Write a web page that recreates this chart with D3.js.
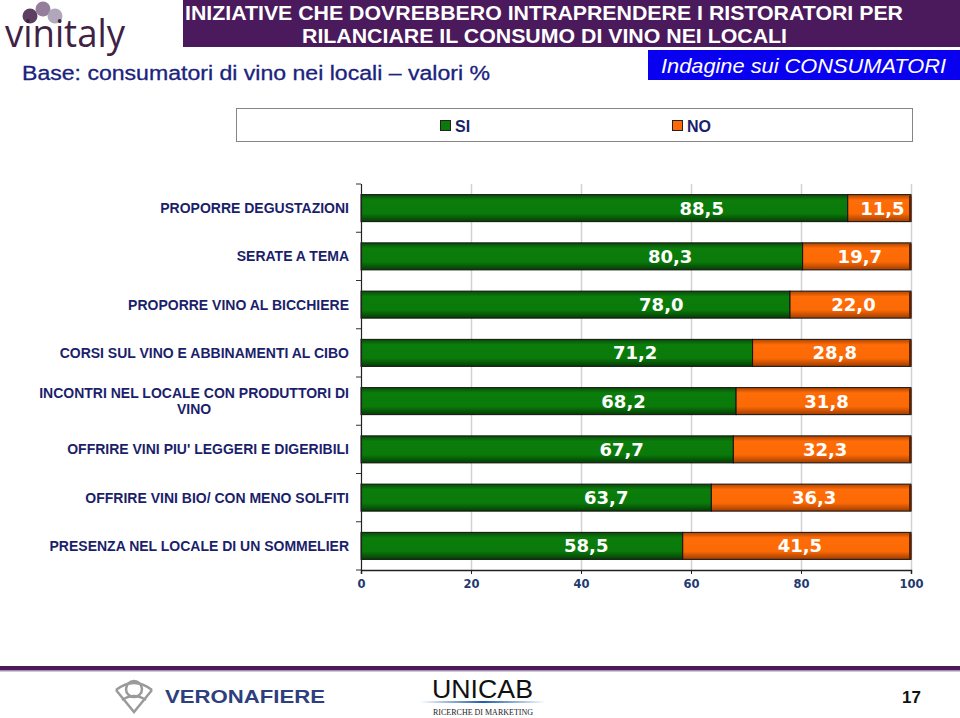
<!DOCTYPE html>
<html><head><meta charset="utf-8">
<script src="https://cdn.jsdelivr.net/npm/d3@7"></script>
<style>
html,body{margin:0;padding:0;background:#fff;}
svg{display:block;}
</style></head>
<body>
<script>
// ---- DATA ----
const categories = [
  ["PROPORRE DEGUSTAZIONI"],
  ["SERATE A TEMA"],
  ["PROPORRE VINO AL BICCHIERE"],
  ["CORSI SUL VINO E ABBINAMENTI AL CIBO"],
  ["INCONTRI NEL LOCALE CON PRODUTTORI DI", "VINO"],
  ["OFFRIRE VINI PIU' LEGGERI E DIGERIBILI"],
  ["OFFRIRE VINI BIO/ CON MENO SOLFITI"],
  ["PRESENZA NEL LOCALE DI UN SOMMELIER"]
];
const siValues = [88.5, 80.3, 78.0, 71.2, 68.2, 67.7, 63.7, 58.5];
const noValues = [11.5, 19.7, 22.0, 28.8, 31.8, 32.3, 36.3, 41.5];
const seriesNames = ["SI", "NO"];
const xTicks = [0, 20, 40, 60, 80, 100];
const titleLines = ["INIZIATIVE CHE DOVREBBERO INTRAPRENDERE I RISTORATORI PER", "RILANCIARE IL CONSUMO DI VINO NEI LOCALI"];
const baseText = "Base: consumatori di vino nei locali \u2013 valori %";
const surveyText = "Indagine sui CONSUMATORI";
const pageNumber = "17";

// ---- LAYOUT ----
const W = 960, H = 718;
const plot = {left: 361, right: 911, top: 184, bottom: 570};
const navy = "#1b1f6b";
const purple = "#4a1a5c";

const svg = d3.select("body").append("svg").attr("width", W).attr("height", H);
const defs = svg.append("defs");

function vgrad(id, stops) {
  const g = defs.append("linearGradient").attr("id", id).attr("x1", 0).attr("y1", 0).attr("x2", 0).attr("y2", 1);
  stops.forEach(s => g.append("stop").attr("offset", s[0]).attr("stop-color", s[1]));
}
vgrad("gGreen", [[0, "#0a4a0a"], [0.2, "#0b7d0b"], [0.7, "#0a7a0a"], [1, "#053c05"]]);
vgrad("gOrange", [[0, "#b04400"], [0.2, "#ff6c08"], [0.7, "#fb6a06"], [1, "#a03c00"]]);
const hg = defs.append("linearGradient").attr("id", "gBlueLine").attr("x1", 0).attr("x2", 1);
hg.append("stop").attr("offset", 0).attr("stop-color", "#ffffff");
hg.append("stop").attr("offset", 0.5).attr("stop-color", "#1f5fa8");
hg.append("stop").attr("offset", 1).attr("stop-color", "#ffffff");

// ---- HEADER ----
svg.append("rect").attr("x", 183).attr("y", 0).attr("width", W - 183).attr("height", 47).attr("fill", purple);
const tl = [{t: titleLines[0], x1: 185, x2: 903, y: 20}, {t: titleLines[1], x1: 302, x2: 787, y: 43}];
tl.forEach(d => {
  svg.append("text").attr("x", d.x1).attr("y", d.y)
    .attr("font-family", "'Liberation Sans Narrow','Liberation Sans',Arial,sans-serif")
    .attr("font-size", 20).attr("font-weight", "bold").attr("fill", "#fff")
    .attr("textLength", d.x2 - d.x1).attr("lengthAdjust", "spacingAndGlyphs")
    .text(d.t);
});
// vinitaly logo
[[30, 16, "#4b2a50"], [43, 9, "#8a7090"], [55, 16, "#a99db2"]].forEach(c => {
  svg.append("circle").attr("cx", c[0]).attr("cy", c[1]).attr("r", 7.5).attr("fill", c[2]).attr("opacity", 0.9);
});
svg.append("text").attr("x", 5).attr("y", 47).attr("font-family", "'Open Sans','DejaVu Sans',sans-serif")
  .attr("font-size", 38).attr("fill", "#3f2145").attr("textLength", 120).attr("lengthAdjust", "spacingAndGlyphs")
  .text("vinitaly");

svg.append("text").attr("x", 22).attr("y", 80)
  .attr("font-family", "'Liberation Sans Narrow','Liberation Sans',Arial,sans-serif")
  .attr("font-size", 20).attr("fill", "#1a237e").attr("stroke", "#1a237e").attr("stroke-width", 0.3)
  .attr("textLength", 468).attr("lengthAdjust", "spacingAndGlyphs").text(baseText);

svg.append("rect").attr("x", 648).attr("y", 50).attr("width", W - 648).attr("height", 30).attr("fill", "#0a00f0");
svg.append("text").attr("x", 661).attr("y", 73)
  .attr("font-family", "'Liberation Sans Narrow','Liberation Sans',Arial,sans-serif")
  .attr("font-size", 21).attr("font-style", "italic").attr("fill", "#fff")
  .attr("textLength", 285).attr("lengthAdjust", "spacingAndGlyphs").text(surveyText);

// ---- LEGEND ----
svg.append("rect").attr("x", 236.5).attr("y", 108.5).attr("width", 676).attr("height", 33)
  .attr("fill", "#fff").attr("stroke", "#858585").attr("stroke-width", 1);
const legendX = [440, 672];
const legendFill = ["#0b7a0b", "#ff6a06"];
seriesNames.forEach((n, i) => {
  svg.append("rect").attr("x", legendX[i] + 0.5).attr("y", 120.5).attr("width", 10).attr("height", 10)
    .attr("fill", legendFill[i]).attr("stroke", "#222").attr("stroke-width", 1);
  svg.append("text").attr("x", legendX[i] + 15).attr("y", 132)
    .attr("font-family", "'Liberation Sans',Arial,sans-serif").attr("font-weight", "bold")
    .attr("font-size", 16).attr("fill", navy).text(n);
});

// ---- SCALES ----
const x = d3.scaleLinear().domain([0, 100]).range([plot.left, plot.right]);
const y = d3.scaleBand().domain(d3.range(categories.length)).range([plot.top, plot.bottom])
  .paddingInner(0.44).paddingOuter(0.22);

// gridlines
const g = svg.append("g");
g.selectAll("line.grid").data(xTicks.slice(1)).join("line").attr("class", "grid")
  .attr("x1", d => x(d) + 0.5).attr("x2", d => x(d) + 0.5)
  .attr("y1", plot.top).attr("y2", plot.bottom)
  .attr("stroke", "#d2d2d2").attr("stroke-width", 1.5);

// bars
const rows = categories.map((c, i) => ({i, si: siValues[i], no: noValues[i]}));
const bh = y.bandwidth();
const bars = svg.append("g");
rows.forEach(r => {
  bars.append("rect").attr("x", x(0)).attr("y", y(r.i)).attr("width", x(r.si) - x(0)).attr("height", bh)
    .attr("fill", "url(#gGreen)").attr("stroke", "#111").attr("stroke-width", 1);
  bars.append("rect").attr("x", x(r.si)).attr("y", y(r.i)).attr("width", x(r.si + r.no) - x(r.si)).attr("height", bh)
    .attr("fill", "url(#gOrange)").attr("stroke", "#111").attr("stroke-width", 1);
});
// shadow at right end
rows.forEach(r => {
  bars.append("rect").attr("x", x(r.si + r.no) - 2).attr("y", y(r.i) + 1).attr("width", 2.5).attr("height", bh - 1)
    .attr("fill", "#5a2200");
});

// value labels
const fmt = v => d3.format(".1f")(v).replace(".", ",");
const lab = svg.append("g").attr("font-family", "'DejaVu Sans',Verdana,sans-serif").attr("font-weight", "bold")
  .attr("font-size", 18).attr("fill", "#fff").attr("text-anchor", "middle");
rows.forEach(r => {
  const xs = x(0) + 0.7 * (x(r.si) - x(0));
  lab.append("text").attr("x", xs).attr("y", y(r.i) + bh / 2).attr("dy", "0.36em").text(fmt(r.si));
  const xn = (x(r.si) + x(r.si + r.no)) / 2 + 3;
  lab.append("text").attr("x", xn).attr("y", y(r.i) + bh / 2).attr("dy", "0.36em").text(fmt(r.no));
});

// axes
svg.append("line").attr("x1", plot.left + 0.5).attr("x2", plot.left + 0.5).attr("y1", plot.top).attr("y2", plot.bottom)
  .attr("stroke", "#222").attr("stroke-width", 1.2);
const bounds = d3.range(categories.length + 1).map(k => plot.top + k * y.step());
svg.selectAll("line.ytick").data(bounds).join("line").attr("class", "ytick")
  .attr("x1", plot.left - 5).attr("x2", plot.left).attr("y1", d => d).attr("y2", d => d)
  .attr("stroke", "#333").attr("stroke-width", 1);

const xAxis = svg.append("g").attr("transform", `translate(0,${plot.bottom})`)
  .call(d3.axisBottom(x).tickValues(xTicks).tickSize(4).tickPadding(6));
xAxis.select(".domain").attr("stroke", "#222").attr("stroke-width", 1.5);
xAxis.selectAll(".tick line").attr("stroke", "#222");
xAxis.selectAll(".tick text").attr("font-family", "'DejaVu Sans',Verdana,sans-serif").attr("font-weight", "bold")
  .attr("font-size", 11.5).attr("fill", "#1f3a70");

// category labels
const cl = svg.append("g").attr("font-family", "'Liberation Sans',Arial,sans-serif").attr("font-weight", "bold")
  .attr("font-size", 14).attr("fill", navy);
const labelRight = 349;
categories.forEach((lines, i) => {
  const cy = y(i) + bh / 2;
  const n = lines.length;
  if (n === 1) {
    cl.append("text").attr("x", labelRight).attr("y", cy).attr("dy", "0.36em").attr("text-anchor", "end").text(lines[0]);
  } else {
    const t0 = cl.append("text").attr("x", labelRight).attr("y", cy - 8).attr("dy", "0.36em").attr("text-anchor", "end").text(lines[0]);
    const w = t0.node().getComputedTextLength();
    const center = labelRight - w / 2;
    for (let k = 1; k < n; k++) {
      cl.append("text").attr("x", center).attr("y", cy - 8 + 16 * k).attr("dy", "0.36em").attr("text-anchor", "middle").text(lines[k]);
    }
  }
});

// ---- FOOTER ----
svg.append("rect").attr("x", 0).attr("y", 666).attr("width", W).attr("height", 4).attr("fill", purple);
svg.append("rect").attr("x", 0).attr("y", 670).attr("width", W).attr("height", 1.5).attr("fill", "#a58fb0");
// veronafiere emblem
const em = svg.append("g").attr("fill", "none").attr("stroke", "#9a9a9a").attr("stroke-width", 2.5);
em.append("circle").attr("cx", 134).attr("cy", 689).attr("r", 8);
em.append("path").attr("d", "M116,690 Q134,676 152,690 M116,690 L134,712 L152,690 M122,700 Q134,692 146,700");
svg.append("text").attr("x", 165).attr("y", 703).attr("font-family", "'Liberation Sans',Arial,sans-serif")
  .attr("font-weight", "bold").attr("font-size", 18).attr("fill", "#2d3f7c")
  .attr("textLength", 160).attr("lengthAdjust", "spacingAndGlyphs").text("VERONAFIERE");
svg.append("text").attr("x", 432).attr("y", 698).attr("font-family", "'Liberation Sans',Arial,sans-serif")
  .attr("font-size", 25).attr("fill", "#111")
  .attr("textLength", 101).attr("lengthAdjust", "spacingAndGlyphs").text("UNICAB");
svg.append("rect").attr("x", 420).attr("y", 701).attr("width", 126).attr("height", 2).attr("fill", "url(#gBlueLine)");
svg.append("text").attr("x", 433).attr("y", 715).attr("font-family", "'Liberation Serif',serif")
  .attr("font-size", 7.5).attr("fill", "#222")
  .attr("textLength", 100).attr("lengthAdjust", "spacingAndGlyphs").text("RICERCHE DI MARKETING");
svg.append("text").attr("x", 902).attr("y", 703).attr("font-family", "'Liberation Sans',Arial,sans-serif")
  .attr("font-weight", "bold").attr("font-size", 17).attr("fill", "#111").text(pageNumber);
</script>
</body></html>
